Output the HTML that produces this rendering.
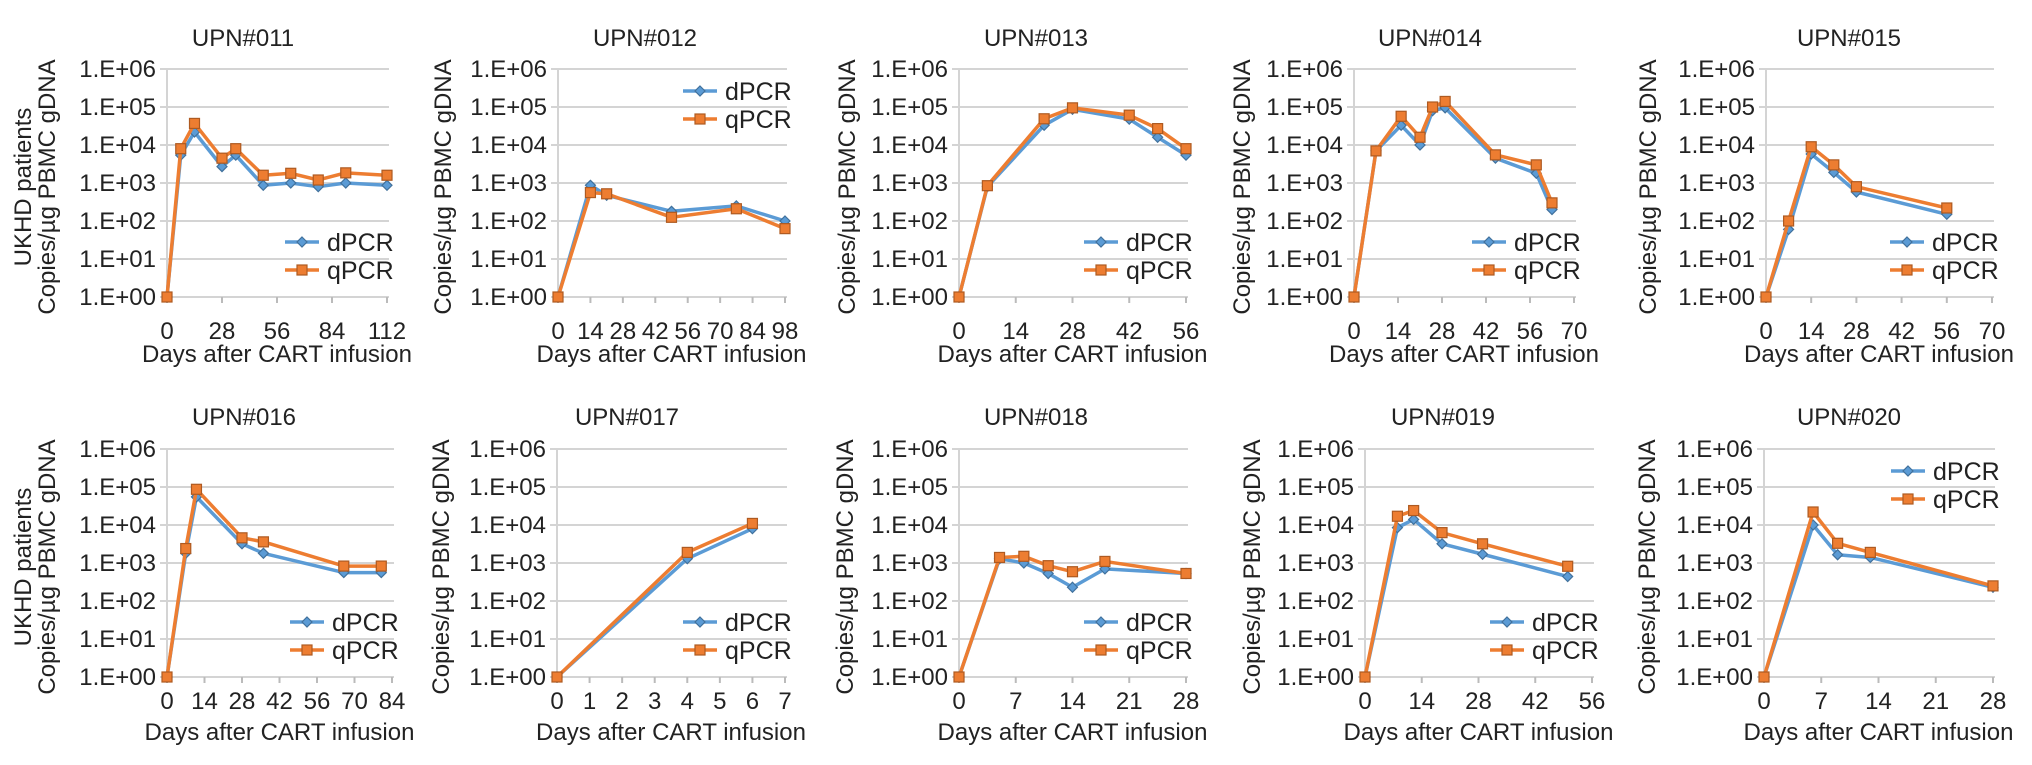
<!DOCTYPE html>
<html><head><meta charset="utf-8"><style>
html,body{margin:0;padding:0;background:#fff;}
svg{display:block;font-family:"Liberation Sans",Arial,sans-serif;}
</style></head><body>
<svg id="fig" width="2032" height="765" viewBox="0 0 2032 765" xmlns="http://www.w3.org/2000/svg"></svg>
<script>
// ---- data (days, dPCR, qPCR copies/µg PBMC gDNA) ----
const days011 = [0, 7, 14, 28, 35, 49, 63, 77, 91, 112];
const dpcr011 = [1, 5400, 22000, 2700, 5400, 870, 1000, 800, 1000, 870];
const qpcr011 = [1, 8000, 37000, 4500, 8000, 1600, 1800, 1200, 1850, 1600];

const days012 = [0, 14, 21, 49, 77, 98];
const dpcr012 = [1, 870, 475, 180, 250, 100];
const qpcr012 = [1, 560, 520, 125, 210, 63];

const days013 = [0, 7, 21, 28, 42, 49, 56];
const dpcr013 = [1, 800, 33000, 87000, 48000, 16000, 5400];
const qpcr013 = [1, 850, 49000, 95000, 61000, 27000, 8000];

const days014 = [0, 7, 15, 21, 25, 29, 45, 58, 63];
const dpcr014 = [1, 7000, 33000, 10000, 80000, 95000, 4500, 1800, 200];
const qpcr014 = [1, 7000, 57000, 16000, 100000, 140000, 5500, 3000, 300];

const days015 = [0, 7, 14, 21, 28, 56];
const dpcr015 = [1, 60, 5800, 1900, 580, 150];
const qpcr015 = [1, 100, 9000, 3000, 800, 220];

const days016 = [0, 7, 11, 28, 36, 66, 80];
const dpcr016 = [1, 1800, 55000, 3200, 1800, 560, 560];
const qpcr016 = [1, 2400, 87000, 4600, 3600, 830, 830];

const days017 = [0, 4, 6];
const dpcr017 = [1, 1300, 8000];
const qpcr017 = [1, 1900, 11000];

const days018 = [0, 5, 8, 11, 14, 18, 28];
const dpcr018 = [1, 1300, 1000, 530, 230, 700, 530];
const qpcr018 = [1, 1400, 1500, 850, 590, 1100, 530];

const days019 = [0, 8, 12, 19, 29, 50];
const dpcr019 = [1, 8500, 14000, 3200, 1700, 440];
const qpcr019 = [1, 17000, 24000, 6300, 3200, 820];

const days020 = [0, 6, 9, 13, 28];
const dpcr020 = [1, 10000, 1650, 1400, 230];
const qpcr020 = [1, 22000, 3300, 1900, 250];

const yTickLabels = ["1.E+00","1.E+01","1.E+02","1.E+03","1.E+04","1.E+05","1.E+06"];
const xTicks011 = [0,28,56,84,112];
const xTicks012 = [0,14,28,42,56,70,84,98];
const xTicks013 = [0,14,28,42,56];
const xTicks014 = [0,14,28,42,56,70];
const xTicks015 = [0,14,28,42,56,70];
const xTicks016 = [0,14,28,42,56,70,84];
const xTicks017 = [0,1,2,3,4,5,6,7];
const xTicks018 = [0,7,14,21,28];
const xTicks019 = [0,14,28,42,56];
const xTicks020 = [0,7,14,21,28];

// ---- layout ----
const panels = [
 {id:"011", d:days011, a:dpcr011, b:qpcr011, t:xTicks011, x0:167, x1:387, row:0, tc:243, yt:47, uk:23, leg:"bottom"},
 {id:"012", d:days012, a:dpcr012, b:qpcr012, t:xTicks012, x0:558, x1:785, row:0, tc:645, yt:443, leg:"top"},
 {id:"013", d:days013, a:dpcr013, b:qpcr013, t:xTicks013, x0:959, x1:1186, row:0, tc:1036, yt:847, leg:"bottom"},
 {id:"014", d:days014, a:dpcr014, b:qpcr014, t:xTicks014, x0:1354, x1:1574, row:0, tc:1430, yt:1242, leg:"bottom"},
 {id:"015", d:days015, a:dpcr015, b:qpcr015, t:xTicks015, x0:1766, x1:1992, row:0, tc:1849, yt:1648, leg:"bottom"},
 {id:"016", d:days016, a:dpcr016, b:qpcr016, t:xTicks016, x0:167, x1:392, row:1, tc:244, yt:47, uk:23, leg:"bottom"},
 {id:"017", d:days017, a:dpcr017, b:qpcr017, t:xTicks017, x0:557, x1:785, row:1, tc:627, yt:441, leg:"bottom"},
 {id:"018", d:days018, a:dpcr018, b:qpcr018, t:xTicks018, x0:959, x1:1186, row:1, tc:1036, yt:845, leg:"bottom"},
 {id:"019", d:days019, a:dpcr019, b:qpcr019, t:xTicks019, x0:1365, x1:1592, row:1, tc:1443, yt:1252, leg:"bottom"},
 {id:"020", d:days020, a:dpcr020, b:qpcr020, t:xTicks020, x0:1764, x1:1993, row:1, tc:1849, yt:1647, leg:"top"}
];
const rows = [{top:69, bot:297, title:46, xl:339, xt:362}, {top:449, bot:677, title:425, xl:709, xt:740}];

const NS = "http://www.w3.org/2000/svg";
const svg = document.getElementById("fig");
function mk(tag, attrs, parent){
  const e = document.createElementNS(NS, tag);
  for (const k in attrs) e.setAttribute(k, attrs[k]);
  (parent||svg).appendChild(e);
  return e;
}
function diamond(g, x, y){
  const p = mk("polygon", {points:`${x},${y-5} ${x+5},${y} ${x},${y+5} ${x-5},${y}`, fill:"#5b9bd5", stroke:"#41719c", "stroke-width":1.2}, g);
  
  
}
function square(g, x, y){
  const p = mk("rect", {x:x-5, y:y-5, width:10, height:10, fill:"#ed7d31", stroke:"#ae5a21", "stroke-width":1.2}, g);
  
  
}

panels.forEach(P => {
  const R = rows[P.row];
  const g = mk("g", {});
  
  
  const dmax = P.t[P.t.length-1];
  const xs = v => P.x0 + (P.x1 - P.x0) * v / dmax;
  const ys = v => R.bot - (R.bot - R.top) * Math.log10(v) / 6;

  const tt = mk("text", {x:P.tc, y:R.title, "font-size":24, "text-anchor":"middle", fill:"#222"}, g);
  tt.textContent = "UPN#" + P.id;
  
  

  for (let i = 0; i <= 6; i++) {
    const y = R.bot - (R.bot - R.top) * i / 6;
    const gl = mk("line", {x1:P.x0-7, x2:P.x1+2, y1:y, y2:y, stroke:"#d4d4d4", "stroke-width":2}, g);
    
    
    const yl = mk("text", {x:P.x0-11, y:y+8, "font-size":24, "text-anchor":"end", fill:"#222"}, g);
    yl.textContent = yTickLabels[i];
    
    
  }
  const ya = mk("line", {x1:P.x0, x2:P.x0, y1:R.top, y2:R.bot, stroke:"#d4d4d4", "stroke-width":2}, g);
  
  
  P.t.forEach(v => {
    const x = xs(v);
    const tk = mk("line", {x1:x, x2:x, y1:R.bot, y2:R.bot+6, stroke:"#bbb", "stroke-width":2}, g);
    
    
    const xl = mk("text", {x:x, y:R.xl, "font-size":24, "text-anchor":"middle", fill:"#222"}, g);
    xl.textContent = v;
    
    
  });
  const xtt = mk("text", {x:(P.x0+P.x1)/2, y:R.xt, "font-size":24, "text-anchor":"middle", fill:"#222"}, g);
  xtt.textContent = "Days after CART infusion";
  
  
  const cy = (R.top + R.bot) / 2 + 4;
  const ytt = mk("text", {x:0, y:0, "font-size":24, "text-anchor":"middle", fill:"#222", transform:`translate(${P.yt+8},${cy}) rotate(-90)`}, g);
  ytt.textContent = "Copies/\u00b5g PBMC gDNA";
  
  
  if (P.uk !== undefined) {
    const uk = mk("text", {x:0, y:0, "font-size":24, "text-anchor":"middle", fill:"#222", transform:`translate(${P.uk+8},${cy}) rotate(-90)`}, g);
    uk.textContent = "UKHD patients";
    
    
  }

  const la = mk("polyline", {points:P.d.map((v,i)=>`${xs(v)},${ys(P.a[i])}`).join(" "), fill:"none", stroke:"#5b9bd5", "stroke-width":3.5, "stroke-linejoin":"round"}, g);
  
  
  P.d.forEach((v,i)=>diamond(g, xs(v), ys(P.a[i])));
  const lb = mk("polyline", {points:P.d.map((v,i)=>`${xs(v)},${ys(P.b[i])}`).join(" "), fill:"none", stroke:"#ed7d31", "stroke-width":3.5, "stroke-linejoin":"round"}, g);
  
  
  P.d.forEach((v,i)=>square(g, xs(v), ys(P.b[i])));

  let ly1, ly2;
  if (P.leg === "top") { ly1 = R.top + 22; ly2 = R.top + 50; }
  else { ly1 = R.bot - 55; ly2 = R.bot - 27; }
  const lg = mk("g", {}, g);
  
  
  [[ly1, "#5b9bd5", "dPCR", true], [ly2, "#ed7d31", "qPCR", false]].forEach(e => {
    const ent = mk("g", {}, lg);
    
    
    const lx = P.x1 - 102;
    mk("line", {x1:lx, x2:lx+34, y1:e[0], y2:e[0], stroke:e[1], "stroke-width":3.5}, ent);
    if (e[3]) diamond(ent, lx+17, e[0]); else square(ent, lx+17, e[0]);
    const tx = mk("text", {x:lx+42, y:e[0]+9, "font-size":25, fill:"#222"}, ent);
    tx.textContent = e[2];
  });
});
</script>
</body></html>
